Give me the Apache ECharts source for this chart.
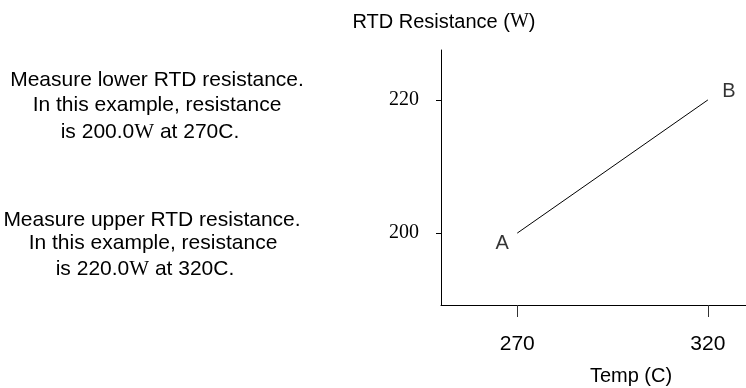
<!DOCTYPE html>
<html>
<head>
<meta charset="utf-8">
<script src="https://cdn.jsdelivr.net/npm/echarts@6/dist/echarts.min.js"></script>
<style>
  html, body { margin: 0; padding: 0; background: #fff; }
  #chart { width: 746px; height: 388px; }
</style>
</head>
<body>
<div id="chart"></div>
<script>
// Two calibration points of the RTD: temperature (C) and resistance (ohms)
const temps = [270, 320];
const resistances = [200.0, 220.0];
const pointNames = ['A', 'B'];
const steps = ['lower', 'upper'];

// Tick values shown on each axis
const xTicks = [270, 320];
const yTicks = [200, 220];

const SANS = '"Liberation Sans", Arial, sans-serif';
const SERIF = '"Liberation Serif", "Times New Roman", serif';
const FS = 20;
const NOTE_FS = 21;

// Instruction text beside the plot, built from the calibration values
function noteLines(i) {
  return [
    'Measure ' + steps[i] + ' RTD resistance.',
    'In this example, resistance',
    'is ' + resistances[i].toFixed(1) + '{w|W} at ' + temps[i] + 'C.'
  ];
}
const notePos = [
  [[157, 80], [157, 105], [150, 132]],
  [[152, 220], [153, 243], [145, 269]]
];

const graphics = [];
notePos.forEach(function (block, i) {
  const lines = noteLines(i);
  block.forEach(function (p, j) {
    graphics.push({
      type: 'text', x: p[0], y: p[1], silent: true,
      style: {
        text: lines[j], fill: '#000', fontFamily: SANS, fontSize: NOTE_FS,
        align: 'center', verticalAlign: 'middle',
        rich: { w: { fontFamily: SERIF, fontSize: NOTE_FS, fill: '#000' } }
      }
    });
  });
});
// Axis titles
graphics.push({
  type: 'text', x: 444, y: 22, silent: true,
  style: {
    text: 'RTD Resistance ({w|W})', fill: '#000', fontFamily: SANS, fontSize: FS,
    align: 'center', verticalAlign: 'middle',
    rich: { w: { fontFamily: SERIF, fontSize: FS, fill: '#000' } }
  }
});
graphics.push({
  type: 'text', x: 631, y: 376, silent: true,
  style: {
    text: 'Temp (C)', fill: '#000', fontFamily: SANS, fontSize: FS,
    align: 'center', verticalAlign: 'middle'
  }
});

const linePoints = temps.map(function (t, i) { return [t, resistances[i]]; });
const labelOffsets = [[-15, 10], [21, -8]];

const chart = echarts.init(document.getElementById('chart'), null, { renderer: 'canvas' });
chart.setOption({
  animation: false,
  backgroundColor: '#fff',
  grid: { left: 441, top: 50, width: 307, height: 255 },
  xAxis: {
    type: 'value', min: 250, max: 330,
    axisLine: { show: true, onZero: false, lineStyle: { color: '#000', width: 1 } },
    axisTick: { show: true, length: 12, customValues: xTicks, lineStyle: { color: '#333', width: 1 } },
    axisLabel: { customValues: xTicks, fontFamily: SANS, fontSize: 21, color: '#000', margin: 29 },
    splitLine: { show: false }
  },
  yAxis: {
    type: 'value', min: 189.2, max: 227.5,
    axisLine: { show: true, onZero: false, lineStyle: { color: '#000', width: 1 } },
    axisTick: { show: true, length: 5, customValues: yTicks, lineStyle: { color: '#000', width: 1 } },
    axisLabel: { customValues: yTicks, fontFamily: SERIF, fontSize: FS, color: '#000', margin: 22 },
    splitLine: { show: false }
  },
  series: [
    {
      type: 'line',
      data: linePoints,
      symbol: 'none',
      lineStyle: { color: '#000', width: 1 },
      silent: true
    },
    {
      type: 'scatter',
      symbolSize: 1,
      itemStyle: { color: 'rgba(0,0,0,0)' },
      data: linePoints.map(function (p, i) {
        return {
          value: p,
          name: pointNames[i],
          label: {
            show: true, position: 'inside', offset: labelOffsets[i],
            formatter: '{b}', fontFamily: SANS, fontSize: FS, color: '#000'
          }
        };
      }),
      silent: true
    }
  ],
  graphic: graphics
});
</script>
</body>
</html>
